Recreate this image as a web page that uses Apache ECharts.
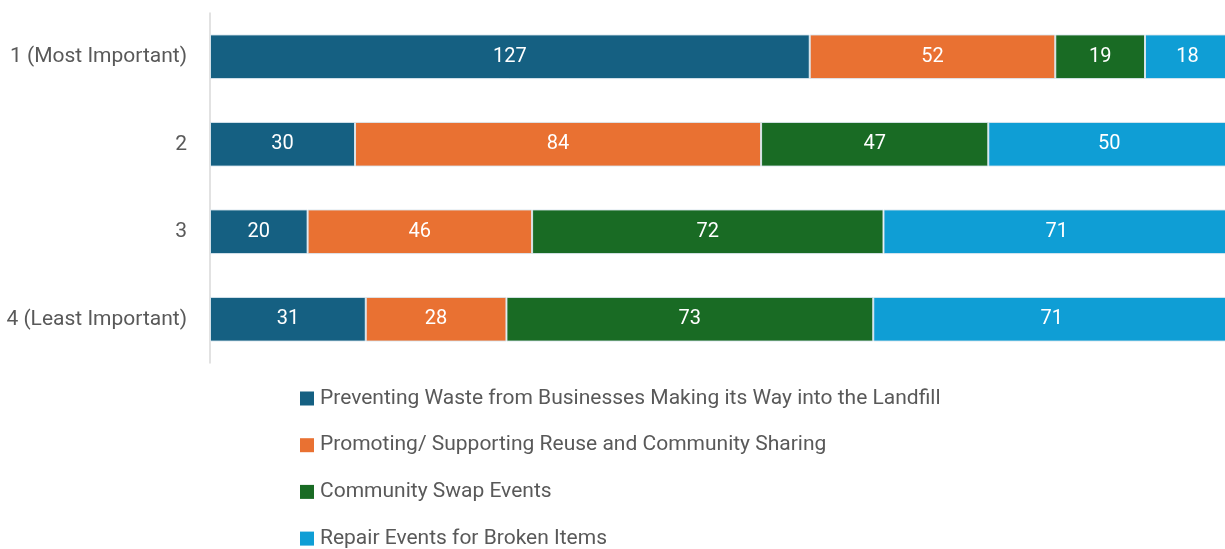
<!DOCTYPE html>
<html>
<head>
<meta charset="utf-8">
<script src="https://cdn.jsdelivr.net/npm/echarts@6/dist/echarts.min.js"></script>
<style>
  html, body { margin: 0; padding: 0; background: #fff; overflow: hidden; width: 1225px; height: 549px; }
  #chart { width: 1230px; height: 549px; }
</style>
</head>
<body>
<div id="chart"></div>
<script>
// Importance rankings (rows) and response counts per initiative
const categories = ['1 (Most Important)', '2', '3', '4 (Least Important)'];
const seriesNames = [
  'Preventing Waste from Businesses Making its Way into the Landfill',
  'Promoting/ Supporting Reuse and Community Sharing',
  'Community Swap Events',
  'Repair Events for Broken Items'
];
const preventingWaste = [127, 30, 20, 31];
const promotingReuse = [52, 84, 46, 28];
const swapEvents = [19, 47, 72, 73];
const repairEvents = [18, 50, 71, 71];
const colors = ['#156082', '#E97132', '#196B24', '#0F9ED5'];

const counts = [preventingWaste, promotingReuse, swapEvents, repairEvents];
// Row totals, so each bar fills 100% while labels keep the raw counts
const totals = categories.map((_, i) => counts.reduce((s, arr) => s + arr[i], 0));

const font = 'Roboto, "Noto Sans", sans-serif';

const chart = echarts.init(document.getElementById('chart'), null, { renderer: 'canvas' });
chart.setOption({
  animation: false,
  color: colors,
  grid: { left: 210, right: 0, top: 13, height: 350 },
  xAxis: {
    type: 'value', min: 0, max: 100, show: false
  },
  yAxis: {
    type: 'category',
    data: categories,
    inverse: true,
    axisLine: { show: true, lineStyle: { color: '#d9d9d9', width: 1.5 } },
    axisTick: { show: false },
    axisLabel: { color: '#595959', fontSize: 21, fontFamily: font, margin: 23 }
  },
  legend: {
    orient: 'vertical',
    left: 300,
    top: 388,
    height: 170,
    padding: 0,
    itemWidth: 14,
    itemHeight: 14,
    itemGap: 25.7,
    icon: 'rect',
    itemStyle: { borderWidth: 0 },
    textStyle: { color: '#595959', fontSize: 21, fontFamily: font, lineHeight: 21, padding: [0, 0, 0, 1] },
    data: seriesNames
  },
  series: seriesNames.map((name, s) => ({
    name,
    type: 'bar',
    stack: 'total',
    barWidth: '51%',
    data: counts[s].map((v, i) => ({ value: v / totals[i] * 100, raw: v })),
    itemStyle: { borderColor: 'rgba(220,232,240,0.9)', borderWidth: 1 },
    label: {
      show: true,
      position: 'inside',
      color: '#ffffff',
      fontSize: 20,
      fontFamily: font,
      formatter: p => String(p.data.raw)
    }
  }))
});
</script>
</body>
</html>
